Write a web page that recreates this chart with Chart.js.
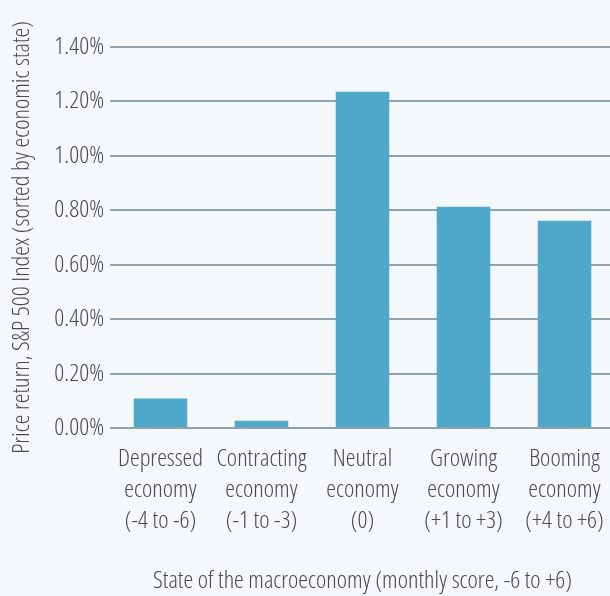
<!DOCTYPE html>
<html>
<head>
<meta charset="utf-8">
<script src="https://cdn.jsdelivr.net/npm/chart.js@4"></script>
<style>
  html, body { margin: 0; padding: 0; background: #f4f8fa; overflow: hidden; }
  #wrap { width: 620px; height: 596px; }
</style>
</head>
<body>
<div id="wrap"><canvas id="grafico" width="620" height="596"></canvas></div>
<script>
const categorias = [
  ['Depressed', 'economy', '(-4 to -6)'],
  ['Contracting', 'economy', '(-1 to -3)'],
  ['Neutral', 'economy', '(0)'],
  ['Growing', 'economy', '(+1 to +3)'],
  ['Booming', 'economy', '(+4 to +6)']
];
const retornos = [0.108, 0.027, 1.236, 0.813, 0.762];
const ticksY = [0, 0.2, 0.4, 0.6, 0.8, 1.0, 1.2, 1.4];

// font-stretch rides in the weight slot of the canvas font string
const fonte = "'Open Sans', 'DejaVu Sans', sans-serif";
const peso = 'condensed 300';
const tam = 24.5;
const corTexto = '#4a4a4a';

const ctx = document.getElementById('grafico').getContext('2d');

new Chart(ctx, {
  type: 'bar',
  data: {
    labels: categorias,
    datasets: [{
      label: 'Price return',
      data: retornos,
      backgroundColor: '#4fa8c9',
      borderWidth: 0,
      barPercentage: 0.53,
      categoryPercentage: 1.0
    }]
  },
  options: {
    responsive: false,
    animation: false,
    layout: {
      padding: { top: 47, right: 5, left: 0, bottom: 0 }
    },
    scales: {
      y: {
        min: 0,
        max: 1.4,
        afterBuildTicks: scale => {
          scale.ticks = ticksY.map(v => ({ value: v }));
        },
        afterFit: scale => {
          scale.width = 110;
        },
        ticks: {
          color: corTexto,
          padding: 6,
          font: { family: fonte, size: tam, weight: peso },
          callback: v => v.toFixed(2) + '%'
        },
        grid: {
          color: '#8fa2b0',
          lineWidth: 2,
          drawTicks: false
        },
        border: { display: false },
        title: {
          display: true,
          text: 'Price return, S&P 500 Index (sorted by economic state)',
          color: corTexto,
          font: { family: fonte, size: tam, weight: peso },
          padding: { top: 7, bottom: 0 }
        }
      },
      x: {
        grid: { display: false, drawTicks: false },
        border: { display: false },
        afterFit: scale => {
          scale.height = 168;
          scale.paddingLeft = 0;
          scale.paddingRight = 0;
        },
        ticks: {
          color: corTexto,
          padding: 16,
          maxRotation: 0,
          autoSkip: false,
          font: { family: fonte, size: tam, weight: peso, lineHeight: 1.265 }
        },
        title: {
          display: true,
          text: 'State of the macroeconomy (monthly score, -6 to +6)',
          color: corTexto,
          font: { family: fonte, size: tam, weight: peso },
          padding: { top: 29, bottom: 0 }
        }
      }
    },
    plugins: {
      legend: { display: false },
      tooltip: { enabled: false }
    }
  }
});
</script>
</body>
</html>
